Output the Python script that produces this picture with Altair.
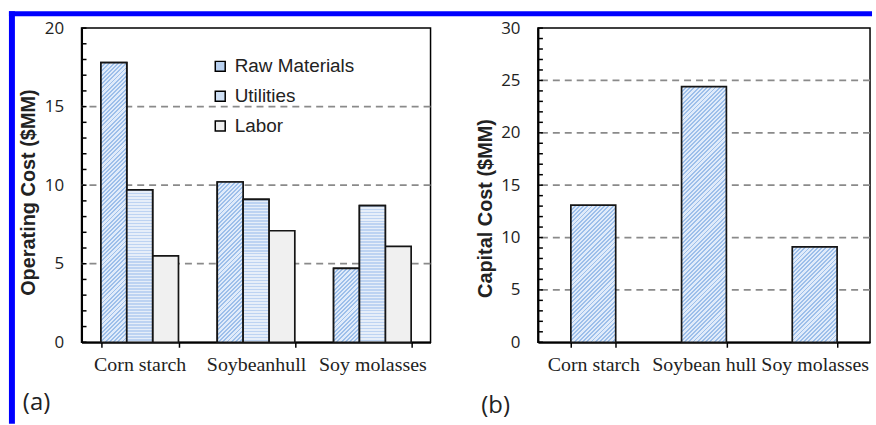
import math

import altair as alt
import pandas as pd

# ---- data -------------------------------------------------------------
feedstocks_a = ["Corn starch", "Soybeanhull", "Soy molasses"]
feedstocks_b = ["Corn starch", "Soybean hull", "Soy molasses"]
cost_types = ["Raw Materials", "Utilities", "Labor"]
raw_materials = [17.8, 10.2, 4.7]
utilities = [9.7, 9.1, 8.7]
labor = [5.5, 7.1, 6.1]
capital_cost = [13.1, 24.4, 9.1]
op_ticks = [0, 5, 10, 15, 20]
op_grid = [5, 10, 15]
op_minor = list(range(0, 21))
cap_ticks = [0, 5, 10, 15, 20, 25, 30]
cap_grid = [5, 10, 15, 20, 25]
cap_minor = list(range(0, 31))
panel_labels = ["(a)", "(b)"]

# ---- layout -----------------------------------------------------------
W_A, W_B, H = 351, 334, 316
GAP = 108
PAD_A = 1 / 3
PAD_B = 0.595
BAR_A = W_A / 3 * (1 - PAD_A) / 3
BAR_B = W_B / 3 * (1 - PAD_B)

INK = "#222222"
EDGE = "#151515"
RAW_DARK, RAW_LIGHT, RAW_MEAN = "#9dbfea", "#e0ebfa", "#b9d1f0"
UTL_DARK, UTL_LIGHT, UTL_MEAN = "#bdd3f2", "#e6eef9", "#cfe0f5"
LABOR_FILL = "#f0f0f0"


def band_stops(length, period, dark, light, frac):
    """Sharp alternating colour bands along a gradient of `length` px."""
    stops = []
    pos = 0.0
    while pos < length - 1e-9:
        a = min(pos / length, 1.0)
        b = min((pos + period * frac) / length, 1.0)
        c = min((pos + period) / length, 1.0)
        for off, col in ((a, dark), (b, dark), (b, light), (c, light)):
            stops.append(alt.GradientStop(offset=round(off, 5), color=col))
        pos += period
    return stops


def diagonal_hatch(w, h, period=3.0, dark=RAW_DARK, light=RAW_LIGHT):
    # "/" hatching: gradient normal runs along (1, 1) in screen space
    k = (w + h) / (w * w + h * h)
    length = (w + h) / math.sqrt(2)
    return alt.LinearGradient(
        gradient="linear",
        stops=band_stops(length, period, dark, light, 0.45),
        x1=0, y1=0, x2=w * k, y2=h * k,
    )


def horizontal_hatch(h, period=3.0, dark=UTL_DARK, light=UTL_LIGHT):
    return alt.LinearGradient(
        gradient="linear",
        stops=band_stops(h, period, dark, light, 0.5),
        x1=0, y1=0, x2=0, y2=1,
    )


def x_axis():
    return alt.Axis(
        tickBand="extent", ticks=True, tickSize=5, tickColor="black", tickWidth=1.5,
        labelFont="Liberation Serif", labelFontSize=20, labelColor=INK,
        labelPadding=7, labelAngle=0, labelOverlap=False, labelBound=False,
        domainColor="black", domainWidth=2, grid=False, title=None,
    )


def y_enc(ymax, ticks, title, title_y):
    return alt.Y(
        "value:Q",
        scale=alt.Scale(domain=[0, ymax], nice=False, zero=True),
        title=title,
        axis=alt.Axis(
            values=ticks, ticks=False, labelPadding=18,
            labelFont="Open Sans", labelFontSize=17, labelColor=INK,
            domainColor="black", domainWidth=2, grid=False,
            titleFont="Liberation Sans", titleFontSize=20, titleFontWeight="bold",
            titleColor=INK, titleX=-53, titleY=title_y, titleBaseline="middle",
            titleAngle=270,
        ),
    )


# ---- panel (a): operating cost ---------------------------------------
rows = []
for series, vals in zip(cost_types, [raw_materials, utilities, labor]):
    for f, v in zip(feedstocks_a, vals):
        rows.append({"feedstock": f, "cost": series, "value": v})
df_a = pd.DataFrame(rows)

ya = y_enc(20, op_ticks, "Operating Cost ($MM)", 165)
xa = alt.X("feedstock:N", scale=alt.Scale(domain=feedstocks_a, paddingInner=PAD_A,
                                          paddingOuter=PAD_A / 2), axis=x_axis())
xoff = alt.XOffset("cost:N", scale=alt.Scale(domain=cost_types, paddingInner=0,
                                             paddingOuter=0))

grid_a = alt.Chart(pd.DataFrame({"value": op_grid})).mark_rule(
    color="#8a8a8a", strokeWidth=1.8, strokeDash=[7, 5]
).encode(y=ya)

minor_a = alt.Chart(pd.DataFrame({"value": op_minor})).mark_rule(
    color="black", strokeWidth=1.5
).encode(y=ya, x=alt.value(0), x2=alt.value(5))

bars_a = alt.Chart(df_a).mark_bar(stroke=EDGE, strokeWidth=1.7).encode(
    x=xa, xOffset=xoff, y=ya,
    color=alt.Color(
        "cost:N",
        scale=alt.Scale(domain=cost_types, range=[RAW_MEAN, UTL_MEAN, LABOR_FILL]),
        legend=alt.Legend(
            orient="none", legendX=130, legendY=29, title=None, padding=0,
            symbolType="square", symbolSize=100, symbolStrokeColor="black",
            symbolStrokeWidth=1.5, labelFont="Liberation Sans", labelFontSize=19,
            labelColor=INK, rowPadding=10, labelOffset=5,
        ),
    ),
)

hatched_a = []
for f, v in zip(feedstocks_a, raw_materials):
    hatched_a.append(
        alt.Chart(df_a).transform_filter(
            (alt.datum.feedstock == f) & (alt.datum.cost == "Raw Materials")
        ).mark_bar(fill=diagonal_hatch(BAR_A, v / 20 * H), stroke=EDGE, strokeWidth=1.7)
        .encode(x=xa, xOffset=xoff, y=ya)
    )
for f, v in zip(feedstocks_a, utilities):
    hatched_a.append(
        alt.Chart(df_a).transform_filter(
            (alt.datum.feedstock == f) & (alt.datum.cost == "Utilities")
        ).mark_bar(fill=horizontal_hatch(v / 20 * H), stroke=EDGE, strokeWidth=1.7)
        .encode(x=xa, xOffset=xoff, y=ya)
    )

label_a = alt.Chart(pd.DataFrame({"t": [panel_labels[0]]})).mark_text(
    align="left", baseline="middle", font="Open Sans", fontSize=24, color=INK
).encode(text="t:N", x=alt.value(-59), y=alt.value(377))

# page frame: blue band along the top and left edges
frame_df = pd.DataFrame({"k": [0]})
frame_top = alt.Chart(frame_df).mark_rule(color="#0000ff", strokeWidth=5).encode(
    x=alt.value(-73), x2=alt.value(795), y=alt.value(-14.5)
)
frame_left = alt.Chart(frame_df).mark_rule(color="#0000ff", strokeWidth=6).encode(
    x=alt.value(-70), y=alt.value(-17), y2=alt.value(398)
)

panel_a = alt.layer(
    grid_a, minor_a, bars_a, *hatched_a, label_a, frame_top, frame_left
).properties(width=W_A, height=H)

# ---- panel (b): capital cost -----------------------------------------
df_b = pd.DataFrame({"feedstock": feedstocks_b, "value": capital_cost})
yb = y_enc(30, cap_ticks, "Capital Cost ($MM)", 181)
xb = alt.X("feedstock:N", scale=alt.Scale(domain=feedstocks_b, paddingInner=PAD_B,
                                          paddingOuter=PAD_B / 2), axis=x_axis())

grid_b = alt.Chart(pd.DataFrame({"value": cap_grid})).mark_rule(
    color="#8a8a8a", strokeWidth=1.8, strokeDash=[7, 5]
).encode(y=yb)

minor_b = alt.Chart(pd.DataFrame({"value": cap_minor})).mark_rule(
    color="black", strokeWidth=1.5
).encode(y=yb, x=alt.value(0), x2=alt.value(5))

hatched_b = []
for f, v in zip(feedstocks_b, capital_cost):
    hatched_b.append(
        alt.Chart(df_b).transform_filter(alt.datum.feedstock == f)
        .mark_bar(fill=diagonal_hatch(BAR_B, v / 30 * H), stroke=EDGE, strokeWidth=1.7)
        .encode(x=xb, y=yb)
    )

label_b = alt.Chart(pd.DataFrame({"t": [panel_labels[1]]})).mark_text(
    align="left", baseline="middle", font="Open Sans", fontSize=24, color=INK
).encode(text="t:N", x=alt.value(-57), y=alt.value(380))

panel_b = alt.layer(grid_b, minor_b, *hatched_b, label_b).properties(width=W_B, height=H)

chart = alt.hconcat(panel_a, panel_b, spacing=GAP, bounds="flush").properties(
    padding={"left": 5, "top": 6, "right": 0, "bottom": 0},
    background="white",
).configure_view(stroke="black", strokeWidth=1.5)

chart.save("out.html", embed_options={"renderer": "svg", "actions": False})
